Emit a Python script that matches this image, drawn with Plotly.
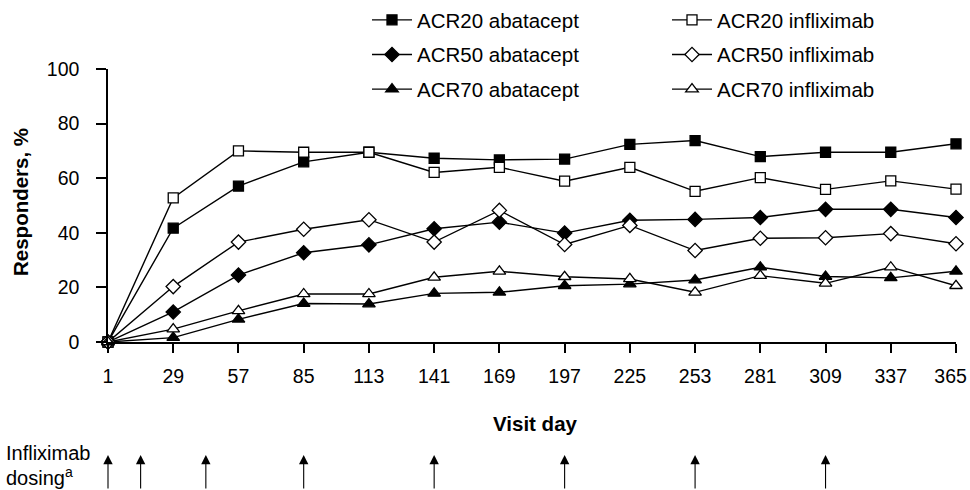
import plotly.graph_objects as go

days = [1, 29, 57, 85, 113, 141, 169, 197, 225, 253, 281, 309, 337, 365]
acr20_abatacept = [0, 41.7, 57.1, 66, 69.5, 67.3, 66.7, 67, 72.4, 73.8, 67.9, 69.5, 69.5, 72.6]
acr20_infliximab = [0, 52.8, 70, 69.5, 69.5, 62.1, 64, 58.9, 64, 55.2, 60.2, 55.9, 59, 56]
acr50_abatacept = [0, 11, 24.5, 32.7, 35.6, 41.5, 43.9, 39.9, 44.6, 44.9, 45.6, 48.6, 48.6, 45.6]
acr50_infliximab = [0, 20.3, 36.6, 41.3, 44.8, 36.6, 48.2, 35.7, 42.7, 33.5, 38, 38.2, 39.7, 36]
acr70_abatacept = [0, 1.6, 8.3, 14.1, 13.9, 17.8, 18.2, 20.6, 21.2, 22.7, 27.4, 24, 23.5, 25.9]
acr70_infliximab = [0, 4.7, 11.4, 17.6, 17.6, 23.7, 25.9, 23.9, 23.1, 18.2, 24.3, 21.5, 27.4, 20.6]
dosing_days = [1, 15, 43, 85, 141, 197, 253, 309]
y_ticks = [0, 20, 40, 60, 80, 100]
x_tick_labels = [str(d) for d in days]

FONT = "Liberation Sans, Arial, sans-serif"

series = [
    ("ACR20 abatacept", acr20_abatacept, "square", True, "legend"),
    ("ACR50 abatacept", acr50_abatacept, "diamond", True, "legend"),
    ("ACR70 abatacept", acr70_abatacept, "triangle-up", True, "legend"),
    ("ACR20 infliximab", acr20_infliximab, "square", False, "legend2"),
    ("ACR50 infliximab", acr50_infliximab, "diamond", False, "legend2"),
    ("ACR70 infliximab", acr70_infliximab, "triangle-up", False, "legend2"),
]
sizes = {"square": 10, "diamond": 11, "triangle-up": 11}

# plot area geometry in pixels (used only for paper-coordinate placement of texts)
W, H = 970, 490
L, R, T, B = 108, 956, 69, 342
PW, PH = R - L, B - T


def px(xp):
    return (xp - L) / PW


def py(yp):
    return (B - yp) / PH


fig = go.Figure()
for name, vals, sym, filled, leg in series:
    fig.add_trace(go.Scatter(
        x=days, y=vals, name=name, mode="lines+markers",
        line=dict(color="black", width=1.4),
        marker=dict(symbol=sym, size=sizes[sym],
                    color="black" if filled else "white",
                    line=dict(color="black", width=1.3)),
        cliponaxis=False, legend=leg, legendgroup=name,
    ))

for d in dosing_days:
    fig.add_annotation(
        x=d, xref="x", y=py(455), yref="paper",
        text="", showarrow=True, ax=0, ay=40,
        arrowhead=2, arrowsize=1.7, arrowwidth=1.1, arrowcolor="black",
    )

fig.add_annotation(x=px(4), y=py(453), xref="paper", yref="paper",
                   text="Infliximab", showarrow=False, xanchor="left", yanchor="middle",
                   font=dict(size=20, color="black", family=FONT))
fig.add_annotation(x=px(4), y=py(476), xref="paper", yref="paper",
                   text="dosing<sup>a</sup>", showarrow=False, xanchor="left", yanchor="middle",
                   font=dict(size=20, color="black", family=FONT))
fig.add_annotation(x=px(535), y=py(423), xref="paper", yref="paper",
                   text="<b>Visit day</b>", showarrow=False, xanchor="center", yanchor="middle",
                   font=dict(size=20.5, color="black", family=FONT))
fig.add_annotation(x=px(20), y=py(202), xref="paper", yref="paper",
                   text="<b>Responders, %</b>", showarrow=False, textangle=-90,
                   xanchor="center", yanchor="middle",
                   font=dict(size=20.5, color="black", family=FONT))

legend_common = dict(
    xref="paper", yref="container", yanchor="top", xanchor="left", y=1.0,
    font=dict(size=20.5, color="black", family=FONT),
    bgcolor="rgba(0,0,0,0)", tracegroupgap=5, itemwidth=40,
)

# last tick label padded so it stays inside the page edge like the reference
tick_text = x_tick_labels[:-1] + [x_tick_labels[-1] + "\u00a0\u00a0"]

fig.update_layout(
    width=W, height=H,
    margin=dict(l=L, r=W - R, t=T, b=H - B, autoexpand=False),
    paper_bgcolor="white", plot_bgcolor="white",
    font=dict(family=FONT, size=19, color="black"),
    legend=dict(x=px(367), **legend_common),
    legend2=dict(x=px(667), **legend_common),
    xaxis=dict(range=[1, 365], tickmode="array", tickvals=days,
               ticktext=tick_text,
               showline=True, linecolor="black", linewidth=1.5,
               ticks="outside", ticklen=9, tickwidth=1.5, tickcolor="black",
               showgrid=False, zeroline=False, ticklabelstandoff=7,
               ticklabeloverflow="allow",
               tickfont=dict(size=19.5, color="black", family=FONT)),
    yaxis=dict(range=[0, 100], tickmode="array", tickvals=y_ticks,
               showline=True, linecolor="black", linewidth=1.5,
               ticks="outside", ticklen=10, tickwidth=1.5, tickcolor="black",
               showgrid=False, zeroline=False, ticklabelstandoff=13,
               tickfont=dict(size=19.5, color="black", family=FONT)),
    showlegend=True,
)

fig.write_html("out.html", config={"displayModeBar": False},
               post_script="document.body.style.margin='0';")
